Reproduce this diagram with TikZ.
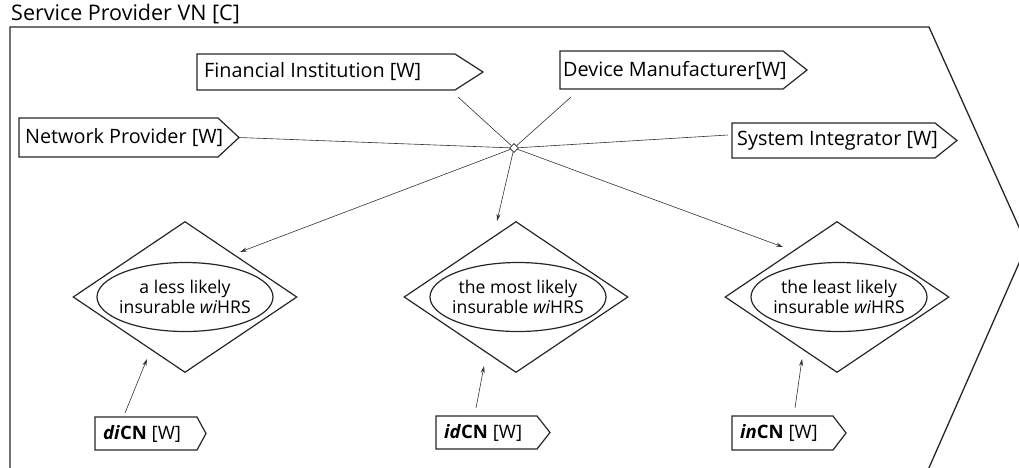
\documentclass[tikz,border=0pt]{standalone}
\usepackage{fontspec}
\setmainfont{Open Sans}
\usetikzlibrary{shapes.geometric,arrows.meta,calc}
\begin{document}
\begin{tikzpicture}[x=1pt,y=-1pt,
  boxline/.style={draw=black!85,line width=1.2pt,line join=miter},
  lbl/.style={inner sep=0pt,font=\fontsize{19.8}{22}\selectfont},
  conn/.style={draw=black!80,line width=0.6pt},
  arr/.style={conn,-{Stealth[length=7pt,width=4pt]}},
  dia/.style={diamond,draw=black!85,line width=1.2pt,minimum width=224pt,minimum height=151pt,inner sep=0pt},
  ell/.style={ellipse,draw=black!85,line width=1.2pt,minimum width=176pt,minimum height=69pt,inner sep=0pt},
  etext/.style={inner sep=0pt,align=center,font=\fontsize{17.6}{20}\selectfont}]
\useasboundingbox (0,0) rectangle (1019,467);
\clip (0,0) rectangle (1019,467);
\newcommand\pentbox[8]{%
  \draw[boxline] (#2,#3) -- (#5,#3) -- (#6,{(#3+#4)/2}) -- (#5,#4) -- (#2,#4) -- cycle;
  \node[lbl,anchor=west] (#1) at ({#2+#7},{(#3+#4)/2}) {#8};
  \coordinate (#1-tip) at (#6,{(#3+#4)/2});
}
% outer frame
\node[lbl,anchor=base west,font=\fontsize{21.5}{22}\selectfont] (title) at (11,20) {Service Provider VN [C]};
\draw[boxline,line width=1.3pt] (10,470) -- (10,27) -- (929,27) -- (1027,245) -- (928,470);
% pentagons
\pentbox{fi}{197}{54}{90}{455}{483}{7}{Financial Institution [W]}
\pentbox{dm}{560}{51}{89}{783}{807}{3}{Device Manufacturer[W]}
\pentbox{np}{19}{118}{157}{218}{239}{6}{Network Provider [W]}
\pentbox{si}{732}{123}{158}{935}{957}{5}{System Integrator [W]}
\pentbox{di}{95}{417}{450}{197}{206}{8}{\fontsize{18.5}{20}\selectfont\textbf{\textit{di}CN} [W]}
\pentbox{id}{436}{416}{449}{537}{550}{8}{\fontsize{18.5}{20}\selectfont\textbf{\textit{id}CN} [W]}
\pentbox{in}{732}{416}{450}{833}{846}{8}{\fontsize{18.5}{20}\selectfont\textbf{\textit{in}CN} [W]}
% diamonds
\node[dia] (d1) at (185,297) {};
\node[dia] (d2) at (516,297) {};
\node[dia] (d3) at (837,297) {};
\node[ell] (e1) at (185,297) {};
\node[ell] (e2) at (518,297) {};
\node[ell] (e3) at (839,297) {};
\node[etext] (t1) at (185,297) {a less likely\\insurable \textit{wi}HRS};
\node[etext] (t2) at (518,297) {the most likely\\insurable \textit{wi}HRS};
\node[etext] (t3) at (839,297) {the least likely\\insurable \textit{wi}HRS};
% hub
\node[diamond,draw=black!85,fill=white,line width=0.6pt,minimum width=9pt,minimum height=9pt,inner sep=0pt] (hub) at (514,148) {};
\coordinate (fiend) at (458,97);
\coordinate (dmend) at (571,97);
\coordinate (siend) at (728,135);
\draw[conn] (hub) -- (fiend);
\draw[conn] (hub) -- (dmend);
\draw[conn] (hub) -- (np-tip);
\draw[conn] (hub) -- (siend);
\coordinate (a1) at (240,252);
\coordinate (a2) at (497,221);
\coordinate (a3) at (783,247);
\draw[arr] (hub) -- (a1);
\draw[arr] (hub) -- (a2);
\draw[arr] (hub) -- (a3);
\coordinate (b1s) at (125,413);
\coordinate (b1e) at (147,359);
\coordinate (b2s) at (476,408);
\coordinate (b2e) at (484,366);
\coordinate (b3s) at (795,408);
\coordinate (b3e) at (802,359);
\draw[arr] (b1s) -- (b1e);
\draw[arr] (b2s) -- (b2e);
\draw[arr] (b3s) -- (b3e);
\end{tikzpicture}
\end{document}
